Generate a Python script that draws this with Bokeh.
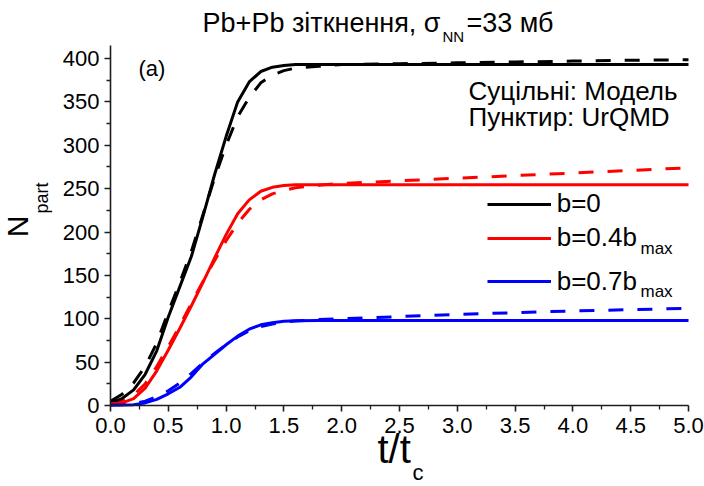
import math
from bokeh.plotting import figure
from bokeh.models import Range1d, Label, Legend, LegendItem, LinearAxis, FixedTicker
from bokeh.embed import file_html
from bokeh.resources import INLINE

# ---------------- data ----------------
t = [0.0, 0.1, 0.2, 0.3, 0.4, 0.5, 0.6, 0.7, 0.8, 0.9, 1.0, 1.1, 1.2, 1.3,
     1.4, 1.5, 1.6, 1.8, 2.0, 2.5, 3.0, 3.5, 4.0, 4.5, 5.0]

b0_model = [3, 8, 18, 36, 63, 102, 137, 172, 218, 266, 310, 350, 373, 385,
            390, 392, 393, 393, 393, 393, 393, 393, 393, 393, 393]
b0_urqmd = [5, 13, 26, 45, 72, 108, 142, 178, 220, 262, 300, 333, 355, 372,
            381, 386, 389, 391, 393, 394, 395, 396, 397, 398, 398.5]

b04_model = [2, 3, 8, 20, 40, 64, 89, 115, 142, 170, 197, 221, 237, 247,
             251.5, 253.5, 254.5, 254.5, 254.5, 254.5, 254.5, 254.5, 254.5, 254.5, 254.5]
b04_urqmd = [2, 5, 12, 25, 45, 68, 92, 118, 143, 167, 190, 210, 226, 237,
             244, 248, 251, 254, 256, 259, 262, 265, 268, 271, 274]

b07_model = [0.5, 0.5, 1, 3, 7, 13.5, 21, 33, 48, 59, 70, 80, 88, 93,
             95.5, 97, 97.7, 98, 98, 98, 98, 98, 98, 98, 98]
b07_urqmd = [0.5, 1, 2, 5, 10, 17, 26, 37, 49, 60, 70, 79, 86, 91,
             94, 96, 97.5, 99, 100, 102.5, 105, 107, 109, 110.5, 112]

x_ticks = [0.0, 0.5, 1.0, 1.5, 2.0, 2.5, 3.0, 3.5, 4.0, 4.5, 5.0]
y_ticks = [0, 50, 100, 150, 200, 250, 300, 350, 400]

series_labels = ["b=0", "b=0.4b", "b=0.7b"]
colors = ["#000000", "#ff0000", "#0000ff"]

# ---------------- layout ----------------
W, H = 704, 486
PL, PR, PT, PB = 110, 688, 45, 405      # plot-area edges in pixels
X0, X1 = 0.0, 5.0                       # visible axis extents
Y0, Y1 = 0.0, 415.0
FONT = "Liberation Sans"

kx = (X1 - X0) / (PR - PL)
ky = (Y1 - Y0) / (PB - PT)
x_range = Range1d(X0 - PL * kx, X1 + (W - PR) * kx)
y_range = Range1d(Y0 - (H - PB) * ky, Y1 + PT * ky)


def dx(px):
    return X0 + (px - PL) * kx


def dy(py):
    return Y0 + (PB - py) * ky


p = figure(width=W, height=H, x_range=x_range, y_range=y_range,
           output_backend="svg", toolbar_location=None,
           x_axis_location=None, y_axis_location=None,
           min_border=0, min_border_left=0, min_border_right=0,
           min_border_top=0, min_border_bottom=0)
p.outline_line_color = None
p.xgrid.visible = False
p.ygrid.visible = False
p.background_fill_color = "white"
p.border_fill_color = "white"

x_minor = [(a + b) / 2 for a, b in zip(x_ticks[:-1], x_ticks[1:])]
y_minor = [(a + b) / 2 for a, b in zip(y_ticks[:-1], y_ticks[1:])]

AX_COL = "#1e1e1e"


def style_axis(ax, standoff):
    ax.axis_line_color = AX_COL
    ax.axis_line_width = 1.6
    ax.major_tick_line_color = AX_COL
    ax.major_tick_line_width = 1.6
    ax.minor_tick_line_color = AX_COL
    ax.minor_tick_line_width = 1.3
    ax.major_tick_in = 0
    ax.major_tick_out = 6
    ax.minor_tick_in = 0
    ax.minor_tick_out = 4
    ax.major_label_text_font = FONT
    ax.major_label_text_font_size = "22px"
    ax.major_label_text_color = "#000000"
    ax.major_label_standoff = standoff


xaxis = LinearAxis(ticker=FixedTicker(ticks=x_ticks, minor_ticks=x_minor),
                   fixed_location=Y0, bounds=(X0, X1))
xaxis.major_label_overrides = {v: f"{v:.1f}" for v in x_ticks}
style_axis(xaxis, 6)
p.add_layout(xaxis, "below")

yaxis = LinearAxis(ticker=FixedTicker(ticks=y_ticks, minor_ticks=y_minor),
                   fixed_location=X0, bounds=(Y0, Y1))
style_axis(yaxis, 5)
p.add_layout(yaxis, "left")

# ---------------- curves ----------------
model = [b0_model, b04_model, b07_model]
urqmd = [b0_urqmd, b04_urqmd, b07_urqmd]
solid_renderers = []
for c, u in zip(colors, urqmd):
    p.line(t, u, line_color=c, line_width=3, line_dash="15 14")
for c, m in zip(colors, model):
    r = p.line(t, m, line_color=c, line_width=3)
    solid_renderers.append(r)

# ---------------- legends (one per entry, for uneven spacing) ----------------
leg_mid_px = [204, 238.3, 281.7]
ITEM_H = 30
for lab, r, mid in zip(series_labels, solid_renderers, leg_mid_px):
    lg = Legend(items=[LegendItem(label=lab, renderers=[r])],
                location=(486.7, (H - mid) - ITEM_H / 2),
                glyph_width=64, glyph_height=ITEM_H, label_height=ITEM_H,
                label_standoff=6, padding=0, margin=0, spacing=0,
                border_line_color=None, background_fill_alpha=0,
                label_text_font=FONT, label_text_font_size="26px",
                label_text_color="#000000")
    p.add_layout(lg)


# ---------------- texts ----------------
def txt(px, py, s, size, align="left", angle=0.0):
    p.add_layout(Label(x=dx(px), y=dy(py), text=s, text_font=FONT,
                       text_font_size=size, text_color="#000000",
                       text_align=align, angle=angle))


for bl in [257.3, 300.7]:
    txt(640, bl, "max", "17px")

txt(138, 80, "(a)", "22px")
txt(468, 105.7, "Суцільні: Модель", "26px")
txt(468, 131.7, "Пунктир: UrQMD", "26px")

# title
txt(440, 37, "Pb+Pb зіткнення, σ", "27px", align="right")
txt(442, 44, "NN", "15px")
txt(466, 37, "=33 мб", "27px")

# axis titles
txt(377, 470, "t/t", "40px")
txt(412, 484, "c", "22px")
txt(33.3, 236.7, "N", "30px", angle=math.pi / 2)
txt(51, 213, "part", "18px", angle=math.pi / 2)

open("out.html", "w").write(file_html(p, INLINE))
